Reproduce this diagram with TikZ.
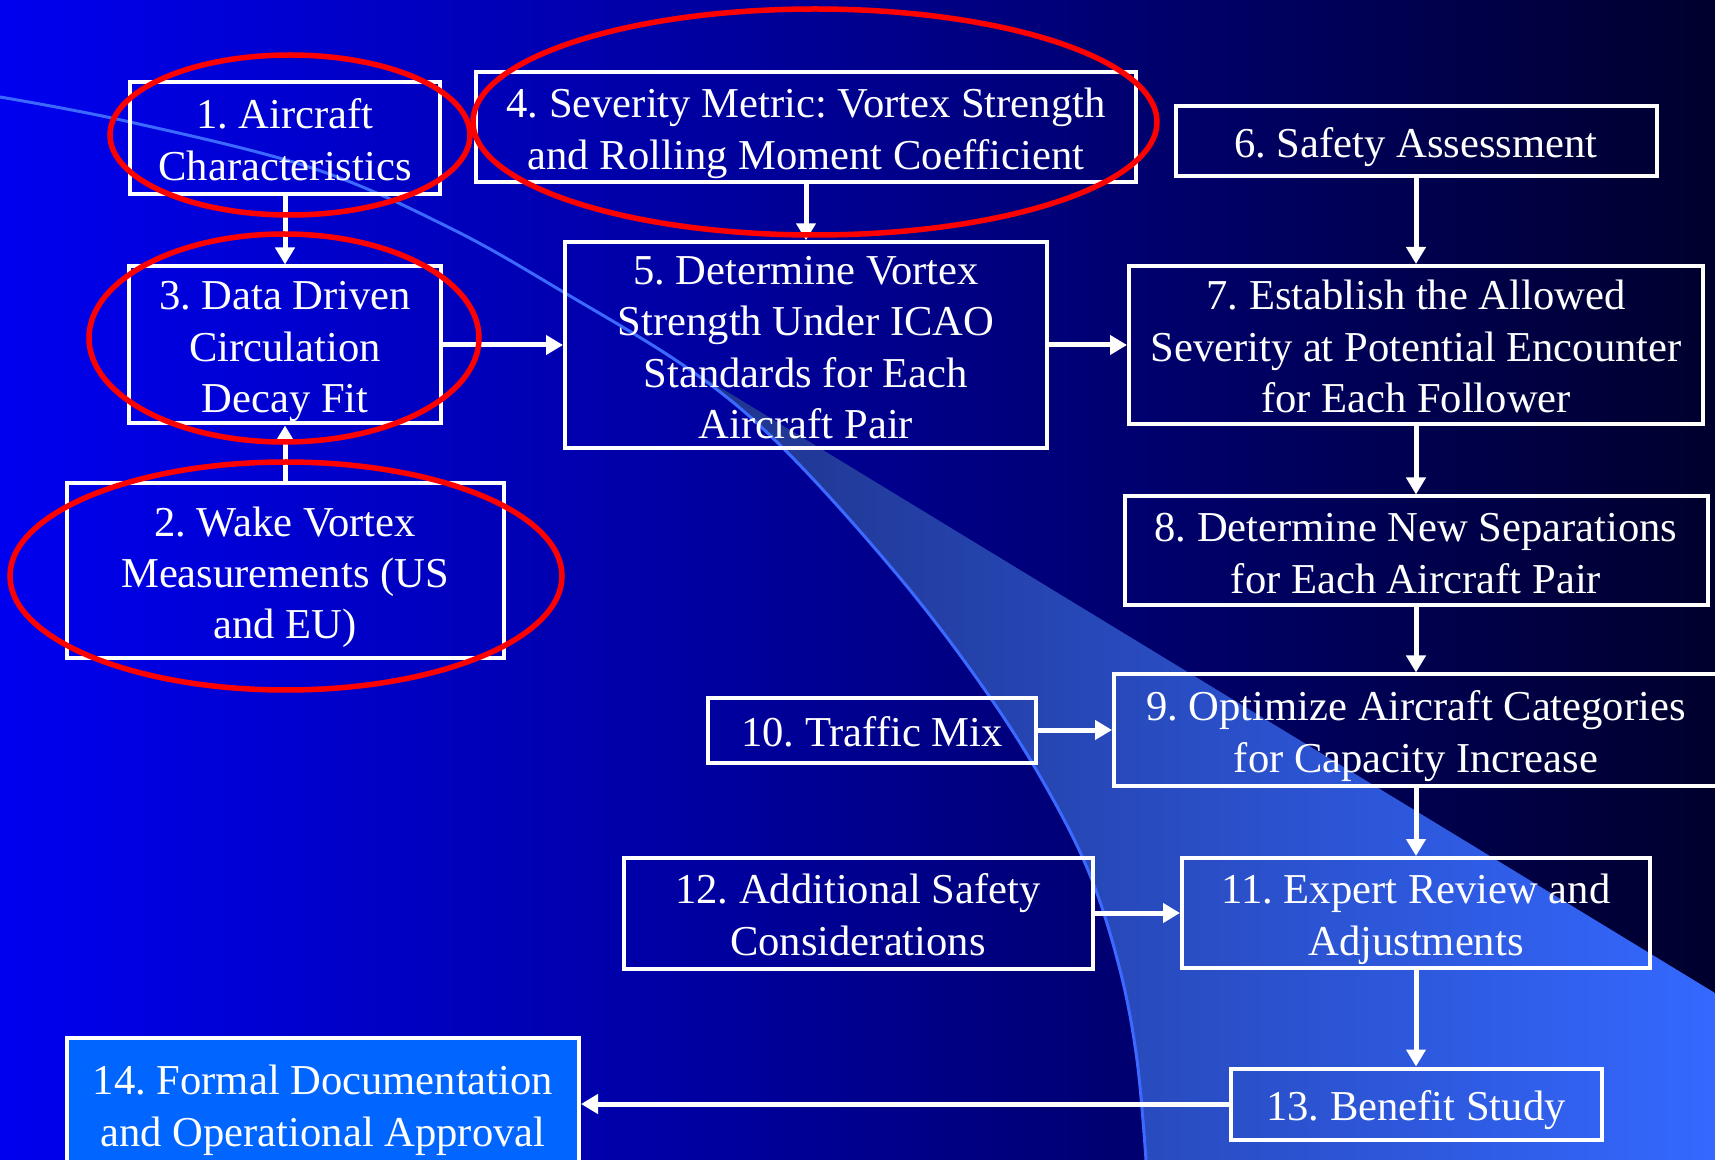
\documentclass[tikz,border=0pt]{standalone}
\usepackage{fontspec}
\setmainfont{Liberation Serif}
\usetikzlibrary{arrows.meta}

\frenchspacing

\definecolor{bgleft}{RGB}{0,0,240}
\definecolor{bgmid}{RGB}{0,0,186}
\definecolor{bgright}{RGB}{0,0,45}
\definecolor{swooshleft}{RGB}{28,45,125}
\definecolor{swooshright}{RGB}{52,104,255}
\definecolor{swooshline}{RGB}{60,105,255}
\definecolor{approval}{RGB}{0,102,255}

\newcommand{\lift}{\rule{0pt}{21pt}}	% fixed height of the first text line

\tikzset{
	stage/.style = {draw = white, line width = 2pt, text = white, align = center, inner sep = 0pt,
		font = \fontsize{21.3}{25.7}\selectfont, text depth = 4.6pt},
	flow/.style = {white, line width = 2.5pt, ->},
	ring/.style = {red, line width = 2.75pt}
}

\begin{document}
\begin{tikzpicture}[x = 0.5pt, y = -0.5pt, > = {Triangle[length = 8.5pt, width = 9.5pt]}]

	% Page (pixel grid of the slide)
	
	\useasboundingbox (0, 0) rectangle (1715, 1160);
	
	% Background
	
	\shade [left color = bgleft, middle color = bgmid, right color = bgright] (0, 0) rectangle (1715, 1160);
	
	% Swoosh
	
	\shade [left color = swooshleft, right color = swooshright]
		plot [smooth, tension = 0.6] coordinates {(565, 293) (693, 372) (785, 450) (900, 578) (985, 690) (1045, 785) (1090, 875) (1120, 970) (1137, 1060) (1146, 1160)}
		-- (1715, 1160) -- (1715, 993) -- cycle;
	
	\draw [swooshline, line width = 1.5pt] plot [smooth, tension = 0.6] coordinates {(0, 97) (130, 122) (312, 168) (450, 228) (565, 293) (693, 372) (785, 450) (900, 578) (985, 690) (1045, 785) (1090, 875) (1120, 970) (1137, 1060) (1146, 1160)};
	
	% Left column
	
	\node [stage, minimum width = 155pt, minimum height = 56pt] (s1) at (285, 138) {\lift 1. Aircraft\\Characteristics};
	\node [stage, minimum width = 156pt, minimum height = 78.5pt] (s3) at (285, 345) {\lift 3. Data Driven\\Circulation\\Decay Fit};
	\node [stage, minimum width = 218.5pt, minimum height = 87.5pt] (s2) at (285, 571) {\lift 2. Wake Vortex\\Measurements (US\\and EU)};
	\node [stage, fill = approval, minimum width = 256pt, minimum height = 66pt] (s14) at (323, 1104) {\lift 14. Formal Documentation\\and Operational Approval};
	
	% Middle column
	
	\node [stage, minimum width = 330pt, minimum height = 55pt] (s4) at (806, 127) {\lift 4. Severity Metric: Vortex Strength\\and Rolling Moment Coefficient};
	\node [stage, minimum width = 241pt, minimum height = 102pt] (s5) at (806, 345) {\lift 5. Determine Vortex\\Strength Under ICAO\\Standards for Each\\Aircraft Pair};
	\node [stage, minimum width = 164pt, minimum height = 32.5pt] (s10) at (872, 730) {\lift 10. Traffic Mix};
	\node [stage, minimum width = 234.5pt, minimum height = 55.5pt] (s12) at (858, 913) {\lift 12. Additional Safety\\Considerations};
	
	% Right column
	
	\node [stage, minimum width = 240.5pt, minimum height = 35pt] (s6) at (1416, 141) {\lift 6. Safety Assessment};
	\node [stage, minimum width = 287pt, minimum height = 79pt] (s7) at (1416, 345) {\lift 7. Establish the Allowed\\Severity at Potential Encounter\\for Each Follower};
	\node [stage, minimum width = 291.5pt, minimum height = 54.5pt] (s8) at (1416, 551) {\lift 8. Determine New Separations\\for Each Aircraft Pair};
	\node [stage, minimum width = 302pt, minimum height = 55.5pt] (s9) at (1416, 730) {\lift 9. Optimize Aircraft Categories\\for Capacity Increase};
	\node [stage, minimum width = 234pt, minimum height = 55pt] (s11) at (1416, 913) {\lift 11. Expert Review and\\Adjustments};
	\node [stage, minimum width = 185.5pt, minimum height = 35.5pt] (s13) at (1416, 1104) {\lift 13. Benefit Study};
	
	% Flow
	
	\draw [flow] (s1) -- (s3);
	\draw [flow] (s2) -- (s3);
	\draw [flow] (s3) -- (s5);
	\draw [flow] (s4) -- (s5);
	\draw [flow] (s5) -- (s7);
	\draw [flow] (s6) -- (s7);
	\draw [flow] (s7) -- (s8);
	\draw [flow] (s8) -- (s9);
	\draw [flow] (s10) -- (s9);
	\draw [flow] (s9) -- (s11);
	\draw [flow] (s12) -- (s11);
	\draw [flow] (s11) -- (s13);
	\draw [flow] (s13) -- (s14);
	
	% Highlight rings
	
	\foreach \cx/\cy/\rx/\ry in {290/135/90/40, 815/122/171/56.5, 284/338/97.5/52, 286/576/138/57}
		\draw [ring] (\cx, \cy) ellipse [x radius = \rx pt, y radius = \ry pt];

\end{tikzpicture}
\end{document}
